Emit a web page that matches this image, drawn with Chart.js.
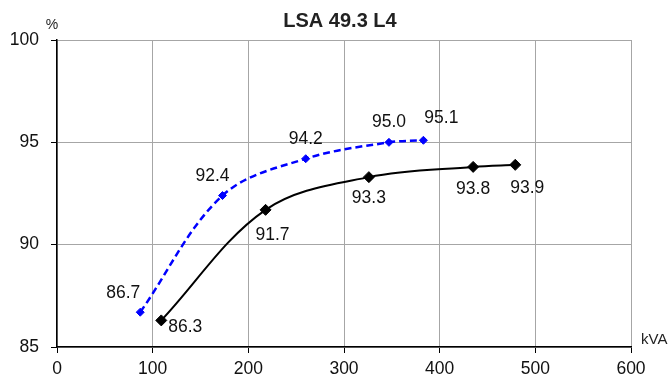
<!DOCTYPE html>
<html>
<head>
<meta charset="utf-8">
<script src="https://cdn.jsdelivr.net/npm/chart.js@4/dist/chart.umd.min.js"></script>
<style>
  html, body { margin: 0; padding: 0; background: #fff; }
  canvas { display: block; }
</style>
</head>
<body>
<canvas id="c" width="670" height="378"></canvas>
<script>
// ---- data ----
const chartTitle = "LSA 49.3 L4";
const yUnit = "%";
const xUnit = "kVA";
const blueKva = [87, 173, 260, 347, 383];
const blueEff = [86.7, 92.4, 94.2, 95.0, 95.1];
const blackKva = [109, 218, 326, 435, 479];
const blackEff = [86.3, 91.7, 93.3, 93.8, 93.9];
const xTickValues = [0, 100, 200, 300, 400, 500, 600];
const yTickValues = [85, 90, 95, 100];

// label offsets (style, not data)
const blueLabelOffsets = [[-17, -19], [-10, -19], [0, -20], [0, -20], [18, -22]];
const blackLabelOffsets = [[24, 7], [7, 25], [0, 21], [0, 22], [12, 23]];

const FONT = "'Liberation Sans', Arial, sans-serif";

const toPoints = (xs, ys) => xs.map((x, i) => ({ x: x, y: ys[i] }));

const labelPlugin = {
  id: 'labels',
  afterDatasetsDraw(chart) {
    const ctx = chart.ctx;
    ctx.save();
    ctx.font = "17.5px " + FONT;
    ctx.fillStyle = "#111";
    ctx.textAlign = "center";
    ctx.textBaseline = "middle";
    chart.data.datasets.forEach((ds, di) => {
      const meta = chart.getDatasetMeta(di);
      const offs = ds.labelOffsets;
      meta.data.forEach((pt, i) => {
        const o = offs[i];
        ctx.fillText(ds.data[i].y.toFixed(1), pt.x + o[0], pt.y + o[1]);
      });
    });
    // title and unit labels
    ctx.font = "bold 20px " + FONT;
    ctx.fillStyle = "#222";
    ctx.fillText(chartTitle, 340, 21);
    ctx.font = "14px " + FONT;
    ctx.fillText(yUnit, 52, 25);
    ctx.textAlign = "left";
    ctx.font = "15px " + FONT;
    ctx.fillText(xUnit, 641, 340);
    ctx.restore();
  }
};

new Chart(document.getElementById('c'), {
  type: 'line',
  data: {
    datasets: [
      {
        data: toPoints(blueKva, blueEff),
        labelOffsets: blueLabelOffsets,
        borderColor: '#0000ff',
        backgroundColor: '#0000ff',
        borderWidth: 2.5,
        borderDash: [7, 4],
        pointStyle: 'rectRot',
        pointRadius: 4,
        pointBorderWidth: 1,
        tension: 0.35,
        fill: false
      },
      {
        data: toPoints(blackKva, blackEff),
        labelOffsets: blackLabelOffsets,
        borderColor: '#000000',
        backgroundColor: '#000000',
        borderWidth: 2,
        pointStyle: 'rectRot',
        pointRadius: 5.5,
        pointBorderWidth: 1,
        tension: 0.35,
        fill: false
      }
    ]
  },
  options: {
    responsive: false,
    animation: false,
    layout: { padding: { left: 0, top: 40, right: 39, bottom: 0 } },
    plugins: { legend: { display: false }, tooltip: { enabled: false }, title: { display: false } },
    scales: {
      x: {
        type: 'linear',
        min: 0, max: 600,
        afterBuildTicks: (s) => { s.ticks = xTickValues.map(v => ({ value: v })); },
        afterFit: (s) => { s.height = 31; },
        grid: { color: '#a6a6a6', lineWidth: 1, tickLength: 6, tickColor: '#000' },
        border: { color: '#000', width: 1.5 },
        ticks: { font: { family: FONT, size: 17.5 }, color: '#111', padding: 6, maxRotation: 0 }
      },
      y: {
        type: 'linear',
        min: 85, max: 100,
        afterBuildTicks: (s) => { s.ticks = yTickValues.map(v => ({ value: v })); },
        afterFit: (s) => { s.width = 57; },
        grid: { color: '#a6a6a6', lineWidth: 1, tickLength: 6, tickColor: '#000' },
        border: { color: '#000', width: 1.5 },
        ticks: { font: { family: FONT, size: 17.5 }, color: '#111', padding: 12 }
      }
    }
  },
  plugins: [labelPlugin]
});
</script>
</body>
</html>
